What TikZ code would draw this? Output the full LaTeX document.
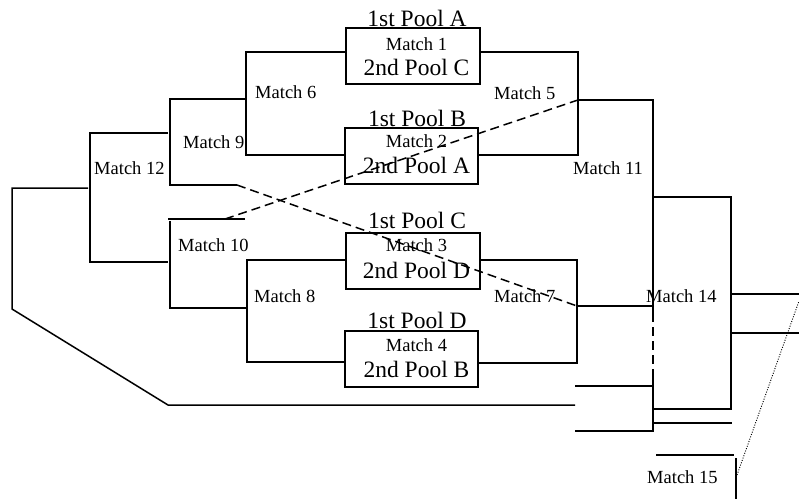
\documentclass[tikz,border=0pt]{standalone}
\usepackage{fontspec}
\setmainfont{Liberation Serif}
\begin{document}
\begin{tikzpicture}[x=1pt,y=-1pt,
  ln/.style={line width=1.5pt},
  dsh/.style={line width=1.5pt, dash pattern=on 9pt off 5pt},
  dtt/.style={line width=0.9pt, dash pattern=on 1pt off 1.5pt},
  box/.style={draw, line width=1.5pt, inner sep=0pt, minimum height=56pt},
  pool/.style={font=\fontsize{23.5}{23.5}\selectfont, anchor=base, inner sep=0pt},
  mt/.style={font=\fontsize{18.5}{18.5}\selectfont, anchor=base west, inner sep=0pt},
  mtc/.style={font=\fontsize{18.5}{18.5}\selectfont, anchor=base, inner sep=0pt}]
\useasboundingbox (0,0) rectangle (799,499);

% boxes
\node[box, minimum width=134pt] (b1) at (413,56) {};
\node[box, minimum width=133pt] (b2) at (411.5,156) {};
\node[box, minimum width=134pt] (b3) at (413,261) {};
\node[box, minimum width=133pt] (b4) at (411.5,359) {};

% box texts
\node[pool] (p1a) at (417,26) {1st Pool A};
\node[mtc]  (t1)  at (416.5,50) {Match 1};
\node[pool] (p2c) at (416.5,75) {2nd Pool C};
\node[pool] (p1b) at (417,126) {1st Pool B};
\node[mtc]  (t2)  at (416.5,147) {Match 2};
\node[pool] (p2a) at (416.5,173) {2nd Pool A};
\node[pool] (p1c) at (417,228) {1st Pool C};
\node[mtc]  (t3)  at (416.5,251) {Match 3};
\node[pool] (p2d) at (416.5,278) {2nd Pool D};
\node[pool] (p1d) at (417,328) {1st Pool D};
\node[mtc]  (t4)  at (416.5,351) {Match 4};
\node[pool] (p2b) at (416.5,377) {2nd Pool B};

% match labels
\node[mt] (m6)  at (255,98)  {Match 6};
\node[mt] (m9)  at (183,148) {Match 9};
\node[mt] (m12) at (94,174)  {Match 12};
\node[mt] (m10) at (178,251) {Match 10};
\node[mt] (m8)  at (254,302) {Match 8};
\node[mt] (m5)  at (494,99)  {Match 5};
\node[mt] (m11) at (573,174) {Match 11};
\node[mt] (m7)  at (494,302) {Match 7};
\node[mt] (m14) at (646,302) {Match 14};
\node[mt] (m15) at (647,483) {Match 15};

% junction coordinates
\coordinate (c6a) at (246,52);   \coordinate (c6b) at (246,155);
\coordinate (c8a) at (247,260);  \coordinate (c8b) at (247,362);
\coordinate (c9a) at (170,99);   \coordinate (c9b) at (170,185);
\coordinate (c9e) at (237,185);
\coordinate (c10a) at (168,219); \coordinate (c10s) at (170,221);
\coordinate (c10b) at (170,308); \coordinate (c10e) at (246,308);
\coordinate (c10d) at (225,219); \coordinate (c10f) at (245,219);
\coordinate (c12a) at (90,133);  \coordinate (c12b) at (90,262);
\coordinate (c12c) at (168,133); \coordinate (c12d) at (168,262);
\coordinate (cLa) at (88,188);   \coordinate (cLb) at (12,188);
\coordinate (cLc) at (12,309);   \coordinate (cLd) at (168,405);
\coordinate (cLe) at (575,405);
\coordinate (c5a) at (578,52);   \coordinate (c5b) at (578,155);
\coordinate (c5m) at (578,100);
\coordinate (c7a) at (577,260);  \coordinate (c7b) at (577,363);
\coordinate (c7m) at (577,306);
\coordinate (c11a) at (653,100); \coordinate (c11b) at (653,313);
\coordinate (c11c) at (653,370); \coordinate (c11d) at (653,432);
\coordinate (c11m) at (653,306);
\coordinate (c14a) at (653,197); \coordinate (c14b) at (731,197);
\coordinate (c14c) at (731,409); \coordinate (c14d) at (653,409);
\coordinate (c14e) at (653,423); \coordinate (c14f) at (732,423);
\coordinate (cx1) at (575,386);  \coordinate (cx2) at (653,386);
\coordinate (cx3) at (575,431);  \coordinate (cx4) at (653,431);
\coordinate (cr1) at (731,294);  \coordinate (cr2) at (799,294);
\coordinate (cr3) at (731,333);  \coordinate (cr4) at (799,333);
\coordinate (c15a) at (656,455); \coordinate (c15b) at (734,455);
\coordinate (c15c) at (736,458); \coordinate (c15d) at (736,499);
\coordinate (c15p) at (737,475); \coordinate (c15q) at (799,301);

% left brackets
\draw[ln] (b1.west |- c6a) -- (c6a) -- (c6b) -- (b2.west |- c6b);
\draw[ln] (b3.west |- c8a) -- (c8a) -- (c8b) -- (b4.west |- c8b);
\draw[ln] (c6a |- c9a) -- (c9a) -- (c9b) -- (c9e);
\draw[ln] (c10f) -- (c10a);
\draw[ln] (c10s) -- (c10b) -- (c10e);
\draw[ln] (c12c) -- (c12a) -- (c12b) -- (c12d);
\draw[ln] (cLa) -- (cLb) -- (cLc) -- (cLd) -- (cLe);

% right brackets
\draw[ln] (b1.east |- c5a) -- (c5a) -- (c5b) -- (b2.east |- c5b);
\draw[ln] (b3.east |- c7a) -- (c7a) -- (c7b) -- (b4.east |- c7b);
\draw[ln] (c5m) -- (c11a) -- (c11b);
\draw[dsh] (c11b) -- (c11c);
\draw[ln] (c11c) -- (c11d);
\draw[ln] (c7m) -- (c11m);
\draw[ln] (c14a) -- (c14b) -- (c14c) -- (c14d);
\draw[ln] (c14e) -- (c14f);
\draw[ln] (cx1) -- (cx2);
\draw[ln] (cx3) -- (cx4);
\draw[ln] (cr1) -- (cr2);
\draw[ln] (cr3) -- (cr4);
\draw[ln] (c15a) -- (c15b);
\draw[ln] (c15c) -- (c15d);

% crossing dashed lines and dotted line
\draw[dsh] (c9e) -- (c7m);
\draw[dsh] (c10d) -- (c5m);
\draw[dtt] (c15p) -- (c15q);
\end{tikzpicture}
\end{document}
